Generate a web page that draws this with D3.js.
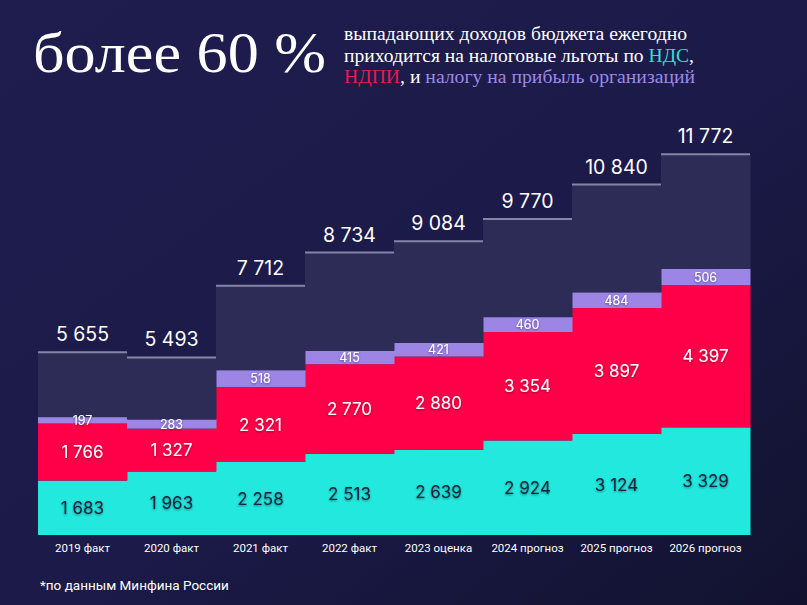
<!DOCTYPE html>
<html><head><meta charset="utf-8">
<script src="https://cdn.jsdelivr.net/npm/d3@7"></script>
<style>
html,body{margin:0;padding:0;background:#181842;}
svg{display:block;}
</style></head>
<body>
<svg id="chart" width="807" height="605"></svg>
<script>
const years = ["2019 факт","2020 факт","2021 факт","2022 факт","2023 оценка","2024 прогноз","2025 прогноз","2026 прогноз"];
const nds = [1683,1963,2258,2513,2639,2924,3124,3329];
const ndpi = [1766,1327,2321,2770,2880,3354,3897,4397];
const profit = [197,283,518,415,421,460,484,506];
const total = [5655,5493,7712,8734,9084,9770,10840,11772];

const fmtSp = v => d3.format(",")(v).replace(/,/g, " ");

const svg = d3.select("#chart");
const W = 807, H = 605;

const defs = svg.append("defs");
const bg = defs.append("linearGradient").attr("id","bg").attr("x1","0").attr("y1","0").attr("x2","1").attr("y2","1");
bg.append("stop").attr("offset","0").attr("stop-color","#1e1d4e");
bg.append("stop").attr("offset","0.55").attr("stop-color","#1b1a48");
bg.append("stop").attr("offset","1").attr("stop-color","#12122f");
const sh = defs.append("filter").attr("id","sh").attr("x","-20%").attr("y","-40%").attr("width","140%").attr("height","180%");
sh.append("feDropShadow").attr("dx",0).attr("dy",1).attr("stdDeviation",1.2).attr("flood-color","#000").attr("flood-opacity",0.45);

svg.append("rect").attr("width",W).attr("height",H).attr("fill","url(#bg)");

const rows = years.map((y,i)=>({year:y, nds:nds[i], ndpi:ndpi[i], profit:profit[i], other: total[i]-nds[i]-ndpi[i]-profit[i], total: total[i]}));
const keys = ["nds","ndpi","profit","other"];
const colors = {nds:"#22e8de", ndpi:"#ff0048", profit:"#9d85e6", other:"#2d2c57"};
const stacked = d3.stack().keys(keys)(rows);

const x = d3.scaleBand().domain(years).range([38,750]).padding(0);
const y = d3.scaleLinear().domain([0,12000]).range([535,147]);

const g = svg.append("g");
stacked.forEach(layer=>{
  g.selectAll(null).data(layer).enter().append("rect")
    .attr("x", d=>x(d.data.year))
    .attr("width", x.bandwidth()+0.5)
    .attr("y", d=>y(d[1]))
    .attr("height", d=>y(d[0])-y(d[1]))
    .attr("fill", colors[layer.key]);
});

g.selectAll(null).data(rows).enter().append("line")
  .attr("x1", d=>x(d.year)).attr("x2", d=>x(d.year)+x.bandwidth())
  .attr("y1", d=>y(d.total)).attr("y2", d=>y(d.total))
  .attr("stroke","#8585a8").attr("stroke-width",2);

g.selectAll(null).data(rows).enter().append("text")
  .attr("x", d=>x(d.year)+x.bandwidth()/2)
  .attr("y", d=>y(d.total)-11)
  .attr("text-anchor","middle")
  .attr("font-family","Inter, 'Noto Sans', sans-serif")
  .attr("font-size",19.5)
  .attr("fill","#ffffff")
  .text(d=>fmtSp(d.total));

const segStyle = {
  nds:{size:17, fill:"#16203a"},
  ndpi:{size:17, fill:"#ffffff"},
  profit:{size:12.5, fill:"#ffffff"}
};
stacked.filter(l=>l.key!=="other").forEach(layer=>{
  const st = segStyle[layer.key];
  g.selectAll(null).data(layer).enter().append("text")
    .attr("x", d=>x(d.data.year)+x.bandwidth()/2)
    .attr("y", d=>(y(d[0])+y(d[1]))/2)
    .attr("dy","0.36em")
    .attr("text-anchor","middle")
    .attr("font-family","Inter, 'Noto Sans', sans-serif")
    .attr("font-size",st.size)
    .attr("fill",st.fill)
    .attr("filter","url(#sh)")
    .text(d=>fmtSp(d.data[layer.key]));
});

const xAxis = d3.axisBottom(x).tickSize(0).tickPadding(0);
const ax = svg.append("g").attr("transform","translate(0,544)").call(xAxis);
ax.select(".domain").remove();
ax.selectAll("text")
  .attr("fill","#ffffff")
  .attr("font-family","Roboto, sans-serif")
  .attr("font-size",11.5)
  .attr("dy","0.71em");

svg.append("text").attr("x",40).attr("y",590)
  .attr("font-family","Roboto, sans-serif").attr("font-size",13.5)
  .attr("fill","#ffffff").text("*по данным Минфина России");

svg.append("text").attr("x",33).attr("y",72)
  .attr("font-family","'Liberation Serif', 'DejaVu Serif', serif")
  .attr("font-size",56)
  .attr("fill","#ffffff")
  .attr("textLength",293).attr("lengthAdjust","spacingAndGlyphs")
  .text("более 60 %");

const sub = svg.append("g").attr("font-family","'Liberation Serif', 'DejaVu Serif', serif").attr("font-size",18.5).attr("fill","#ffffff");
const l1 = sub.append("text").attr("x",344).attr("y",40).attr("textLength",343).attr("lengthAdjust","spacingAndGlyphs");
l1.append("tspan").text("выпадающих доходов бюджета ежегодно");
const l2 = sub.append("text").attr("x",344).attr("y",62).attr("textLength",350).attr("lengthAdjust","spacingAndGlyphs");
l2.append("tspan").text("приходится на налоговые льготы по ");
l2.append("tspan").attr("fill","#2fe0d8").text("НДС");
l2.append("tspan").text(",");
const l3 = sub.append("text").attr("x",344).attr("y",83).attr("textLength",351).attr("lengthAdjust","spacingAndGlyphs");
l3.append("tspan").attr("fill","#e81a50").text("НДПИ");
l3.append("tspan").text(", и ");
l3.append("tspan").attr("fill","#9c88ea").text("налогу на прибыль организаций");
</script>
</body></html>
